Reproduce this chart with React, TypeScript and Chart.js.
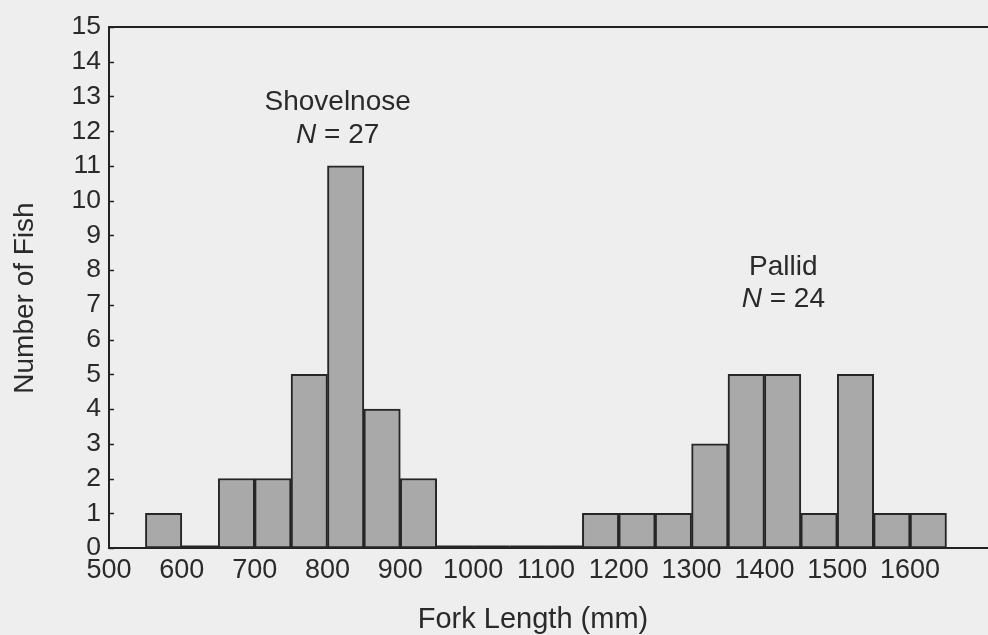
import React, { useEffect, useRef } from "react";
import { Chart, registerables } from "chart.js";

Chart.register(...registerables);

// Histogram bins (lower edge of each 50 mm bin) and fish counts
const binStarts = [550, 600, 650, 700, 750, 800, 850, 900, 950, 1000, 1050, 1100, 1150, 1200, 1250, 1300, 1350, 1400, 1450, 1500, 1550, 1600];
const counts = [1, 0, 2, 2, 5, 11, 4, 2, 0, 0, 0, 0, 1, 1, 1, 3, 5, 5, 1, 5, 1, 1];
const binWidth = 50;
const xTickValues = [500, 600, 700, 800, 900, 1000, 1100, 1200, 1300, 1400, 1500, 1600];
const yTickValues = [0, 1, 2, 3, 4, 5, 6, 7, 8, 9, 10, 11, 12, 13, 14, 15];
const groupNames = ["Shovelnose", "Pallid"];
const groupN = [27, 24];

// annotation anchors (data coordinates)
const groupLabelX = [814, 1426];
const groupLabelY = [12.84, 8.09];
const groupNY = [11.89, 7.17];

const FONT = "'Liberation Sans', Arial, Helvetica, sans-serif";
const TEXT = "#2a2a2a";
const BG = "#eeeeee";

export default function App() {
  const ref = useRef<HTMLCanvasElement | null>(null);

  useEffect(() => {
    const canvas = ref.current;
    if (!canvas) return;

    const data = binStarts.map((b, i) => ({ x: b + binWidth / 2, y: counts[i] }));

    const decor = {
      id: "decor",
      beforeDraw(chart: any) {
        const c = chart.ctx;
        c.save();
        c.fillStyle = BG;
        c.fillRect(0, 0, chart.width, chart.height);
        c.restore();
      },
      afterDatasetsDraw(chart: any) {
        const c = chart.ctx;
        const area = chart.chartArea;
        const xs = chart.scales.x;
        c.save();
        // zero-count bins drawn as a heavier baseline segment
        c.strokeStyle = "#262626";
        c.lineWidth = 3;
        binStarts.forEach((b, i) => {
          if (counts[i] !== 0) return;
          c.beginPath();
          c.moveTo(xs.getPixelForValue(b), area.bottom - 1);
          c.lineTo(xs.getPixelForValue(b + binWidth), area.bottom - 1);
          c.stroke();
        });
        c.restore();
      },
      afterDraw(chart: any) {
        const c = chart.ctx;
        const area = chart.chartArea;
        const xs = chart.scales.x;
        const ys = chart.scales.y;
        c.save();
        // top frame line
        c.strokeStyle = "#222";
        c.lineWidth = 2;
        c.beginPath();
        c.moveTo(area.left - 1, area.top);
        c.lineTo(area.right, area.top);
        c.stroke();
        // inward y ticks
        c.lineWidth = 1.5;
        yTickValues.forEach((v) => {
          const py = Math.round(ys.getPixelForValue(v)) + 0.5;
          c.beginPath();
          c.moveTo(area.left, py);
          c.lineTo(area.left + 5, py);
          c.stroke();
        });
        // group annotations
        c.fillStyle = TEXT;
        c.textBaseline = "middle";
        const f = `28px ${FONT}`;
        const fi = `italic 28px ${FONT}`;
        groupNames.forEach((name, i) => {
          const px = xs.getPixelForValue(groupLabelX[i]);
          c.font = f;
          c.textAlign = "center";
          c.fillText(name, px, ys.getPixelForValue(groupLabelY[i]));
          const italicPart = "N";
          const rest = " = " + groupN[i];
          c.font = fi;
          const w1 = c.measureText(italicPart).width;
          c.font = f;
          const w2 = c.measureText(rest).width;
          const start = px - (w1 + w2) / 2;
          const py = ys.getPixelForValue(groupNY[i]);
          c.textAlign = "left";
          c.font = fi;
          c.fillText(italicPart, start, py);
          c.font = f;
          c.fillText(rest, start + w1, py);
        });
        // axis titles
        c.textAlign = "center";
        c.textBaseline = "alphabetic";
        c.font = `29px ${FONT}`;
        c.fillText("Fork Length (mm)", 533, 628);
        c.font = `28px ${FONT}`;
        c.translate(33, 298);
        c.rotate(-Math.PI / 2);
        c.fillText("Number of Fish", 0, 0);
        c.restore();
      },
    };

    const chart = new Chart(canvas, {
      type: "bar",
      data: {
        datasets: [
          {
            data,
            backgroundColor: "#a9a9a9",
            borderColor: "#262626",
            borderWidth: 2,
            borderSkipped: false,
            barPercentage: 1,
            categoryPercentage: 1,
          } as any,
        ],
      },
      options: {
        responsive: false,
        animation: false,
        devicePixelRatio: 1,
        layout: { padding: { top: 27, right: 0, left: 0, bottom: 0 } },
        plugins: { legend: { display: false }, tooltip: { enabled: false }, title: { display: false } },
        scales: {
          x: {
            type: "linear",
            min: 500,
            max: 1707,
            offset: false,
            grid: { display: false, drawTicks: false },
            border: { display: true, color: "#222", width: 2 },
            ticks: {
              stepSize: 100,
              autoSkip: false,
              maxRotation: 0,
              padding: 6,
              color: TEXT,
              font: { family: FONT, size: 27 },
              callback: (v: any) => String(v),
            },
            afterBuildTicks: (s: any) => {
              s.ticks = xTickValues.map((v) => ({ value: v }));
            },
            afterFit: (s: any) => {
              s.height = 87;
            },
          },
          y: {
            min: 0,
            max: 15,
            grid: { display: false, drawTicks: false },
            border: { display: true, color: "#222", width: 2 },
            ticks: {
              stepSize: 1,
              autoSkip: false,
              padding: 8,
              color: TEXT,
              font: { family: FONT, size: 26.5 },
              callback: (v: any) => String(v),
            },
            afterBuildTicks: (s: any) => {
              s.ticks = yTickValues.map((v) => ({ value: v }));
            },
            afterFit: (s: any) => {
              s.width = 109;
            },
          },
        },
      } as any,
      plugins: [decor],
    });

    return () => chart.destroy();
  }, []);

  return (
    <div style={{ position: "fixed", left: 0, top: 0, width: 988, height: 635, background: BG }}>
      <canvas ref={ref} width={988} height={635} style={{ display: "block" }} />
    </div>
  );
}
